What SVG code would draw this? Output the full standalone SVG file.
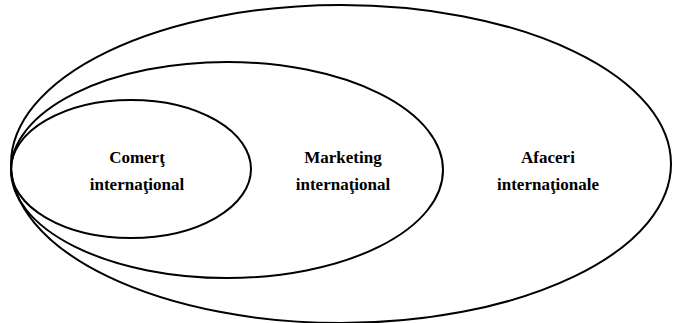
<svg xmlns="http://www.w3.org/2000/svg" width="676" height="323" viewBox="0 0 676 323">
  <style>
    .ring { fill: none; stroke: #000; stroke-width: 2; }
    text { font-family: "Liberation Serif", "Times New Roman", Times, serif; font-size: 17px; font-weight: 700; fill: #000; text-anchor: middle; }
  </style>
  <rect width="676" height="323" fill="#fff"/>
  <g id="afaceri-internationale">
    <ellipse class="ring" cx="341" cy="164" rx="330" ry="159"/>
    <text x="548" y="163" font-family="Liberation Serif">Afaceri</text>
    <text x="548" y="190" font-family="Liberation Serif">internaţionale</text>
  </g>
  <g id="marketing-international">
    <ellipse class="ring" cx="227" cy="170" rx="216" ry="108"/>
    <text x="343" y="163" font-family="Liberation Serif">Marketing</text>
    <text x="343" y="190" font-family="Liberation Serif">internaţional</text>
  </g>
  <g id="comert-international">
    <ellipse class="ring" cx="131" cy="169" rx="120" ry="69"/>
    <text x="137" y="163" font-family="Liberation Serif">Comerţ</text>
    <text x="137" y="190" font-family="Liberation Serif">internaţional</text>
  </g>
  <g id="connectors"/>
</svg>
